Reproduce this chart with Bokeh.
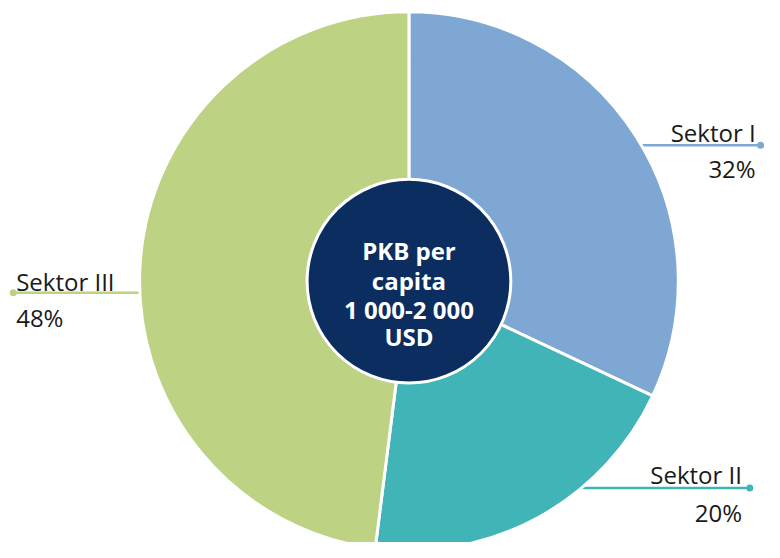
import math
from bokeh.plotting import figure
from bokeh.models import Range1d, ColumnDataSource
from bokeh.core.properties import value
from bokeh.embed import file_html
from bokeh.resources import INLINE

# ---- data ----
categories = ["Sektor I", "Sektor II", "Sektor III"]
shares = [32, 20, 48]
colors = ["#7ea8d3", "#41b4b7", "#bdd282"]
pct_labels = ["32%", "20%", "48%"]
center_lines = ["PKB per", "capita", "1 000-2 000", "USD"]

# the figure maps the 780x558 reference frame onto a 764x542 canvas
W, H = 764, 542
RW, RH = 780, 558
p = figure(width=W, height=H, output_backend="svg", toolbar_location=None,
           x_range=Range1d(0, RW), y_range=Range1d(0, RH),
           min_border=0, outline_line_color=None)
p.axis.visible = False
p.grid.visible = False
p.background_fill_color = "white"
p.border_fill_color = "white"

def Y(ys):  # reference screen y -> data y
    return RH - ys

cx, cy = 417, Y(289)
R = 275
R_in = 104

# leader lines (drawn first, pie covers inner end)
lead = {
    "Sektor I":  dict(y=149, x0=600, x1=776, tx=771, ty1=136, ty2=173, align="right"),
    "Sektor II": dict(y=502, x0=560, x1=765, tx=757, ty1=488, ty2=527, align="right"),
    "Sektor III": dict(y=301, x0=13, x1=200, tx=16, ty1=289, ty2=326, align="left"),
}
for cat, col, pct in zip(categories, colors, pct_labels):
    d = lead[cat]
    p.line([d["x0"], d["x1"]], [Y(d["y"]), Y(d["y"])], line_color=col, line_width=2.5)
    dotx = d["x1"] if d["align"] == "right" else d["x0"]
    p.scatter([dotx], [Y(d["y"])], size=7, fill_color=col, line_color=None)
    p.text([d["tx"]], [Y(d["ty1"])], text=[cat], text_font=value("Open Sans"),
           text_font_size="24px", text_color="#1a1a1a", text_align=d["align"],
           text_baseline="alphabetic")
    p.text([d["tx"]], [Y(d["ty2"])], text=[pct], text_font=value("Open Sans"),
           text_font_size="24px", text_color="#1a1a1a", text_align=d["align"],
           text_baseline="alphabetic")

# pie wedges
total = sum(shares)
starts, ends = [], []
a = 90.0
for s in shares:
    starts.append(math.radians(a))
    a -= s / total * 360.0
    ends.append(math.radians(a))
src = ColumnDataSource(dict(start=starts, end=ends, color=colors))
p.wedge(x=cx, y=cy, radius=R, start_angle="start", end_angle="end",
        direction="clock", fill_color="color", line_color="white",
        line_width=3, source=src)

# center circle
p.circle(x=[cx], y=[cy], radius=R_in, fill_color="#0b2d5f", line_color="white",
         line_width=3)
baselines = [257, 288, 318, 346]
for t, b in zip(center_lines, baselines):
    p.text([cx], [Y(b)], text=[t], text_font=value("Open Sans"), text_font_size="24px",
           text_font_style="bold", text_color="white", text_align="center",
           text_baseline="alphabetic")

open("out.html", "w").write(file_html(p, INLINE))
